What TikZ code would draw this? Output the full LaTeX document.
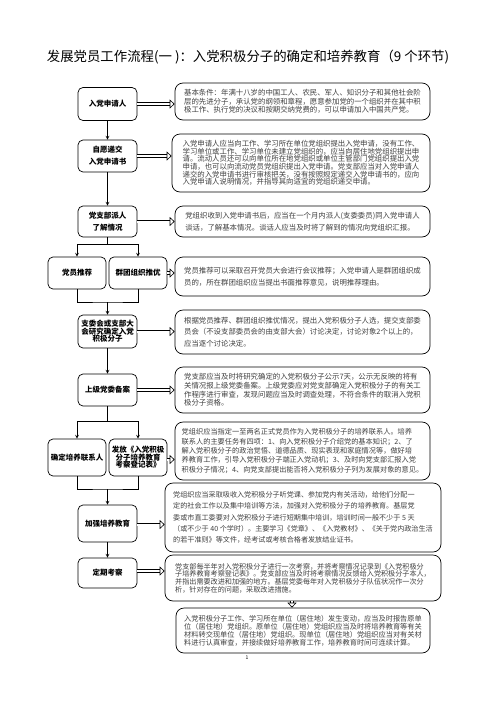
\documentclass[tikz,border=0pt]{standalone}
\usepackage{fontspec}
\setmainfont{Noto Sans CJK SC}
\usetikzlibrary{arrows.meta}

\begin{document}
\begin{tikzpicture}[x=1pt, y=-1pt, >=stealth,
  mainbox/.style={draw, rounded corners=5pt, line width=0.7pt, align=center, inner sep=0pt,
    minimum width=59pt, minimum height=32pt, font=\bfseries\fontsize{7.5}{12}\selectfont},
  notebox/.style={draw, rounded corners=8pt, line width=0.7pt, align=left, inner sep=0pt,
    text=black!75, minimum width=255pt, font=\fontsize{7.4}{8.3}\selectfont},
  hollow/.style={double, double distance=2pt, line width=0.6pt, -{Triangle[open, length=5pt, width=9pt]}},
  flow/.style={->, line width=0.7pt}]
  \useasboundingbox[fill=white] (0,0) rectangle (496,702);

  % title
  \node[font=\fontsize{13.4}{15}\selectfont] (title) at (248,57)
    {发展党员工作流程(一 )：入党积极分子的确定和培养教育（9 个环节)};

  % main column
  \node[mainbox, minimum height=33pt] (apply) at (107.5,104) {入党申请人};
  \node[mainbox] (submit) at (107.5,156) {自愿递交\\入党申请书};
  \node[mainbox, minimum height=31pt] (visit) at (107.5,221.5) {党支部派人\\了解情况};
  \node[mainbox, minimum width=58pt] (recm) at (77,273) {党员推荐};
  \node[mainbox, minimum width=58pt] (tuan) at (138,273) {群团组织推优};
  \node[mainbox, minimum height=33pt, font=\bfseries\fontsize{7.5}{7.6}\selectfont] (decide) at (107.5,331.5)
    {支委会或支部大\\会研究确定入党\\积极分子};
  \node[mainbox] (record) at (107.5,390) {上级党委备案};
  \node[mainbox, minimum width=58pt, minimum height=37pt] (contact) at (77,457.5) {确定培养联系人};
  \node[mainbox, minimum width=58pt, minimum height=37pt, font=\bfseries\fontsize{7.5}{7.6}\selectfont] (form) at (138,457.5)
    {发放《入党积极\\分子培养教育\\考察登记表》};
  \node[mainbox, minimum height=37pt] (educate) at (107.5,523.5) {加强培养教育};
  \node[mainbox, minimum height=30pt] (review) at (107.5,573) {定期考察};

  % notes
  \node[notebox, minimum height=37pt] (n1) at (302.5,101.5)
    {基本条件：年满十八岁的中国工人、农民、军人、知识分子和其他社会阶\\
     层的先进分子，承认党的纲领和章程，愿意参加党的一个组织并在其中积\\
     极工作、执行党的决议和按期交纳党费的，可以申请加入中国共产党。};
  \node[notebox, minimum width=258pt, minimum height=58pt, font=\fontsize{7.4}{7.6}\selectfont] (n2) at (301,163)
    {入党申请人应当向工作、学习所在单位党组织提出入党申请，没有工作、\\
     学习单位或工作、学习单位未建立党组织的，应当向居住地党组织提出申\\
     请。流动人员还可以向单位所在地党组织或单位主管部门党组织提出入党\\
     申请，也可以向流动党员党组织提出入党申请。党支部应当对入党申请人\\
     递交的入党申请书进行审核把关，没有按照规定递交入党申请书的，应向\\
     入党申请人说明情况，并指导其向适宜的党组织递交申请。};
  \node[notebox, minimum height=31pt, font=\fontsize{7.4}{11.7}\selectfont] (n3) at (302.5,221.5)
    {党组织收到入党申请书后，应当在一个月内派人(支委委员)同入党申请人\\
     谈话，了解基本情况。谈话人应当及时将了解到的情况向党组织汇报。};
  \node[notebox, minimum height=39pt, font=\fontsize{7.4}{12}\selectfont] (n4) at (302.5,276.5)
    {党员推荐可以采取召开党员大会进行会议推荐；入党申请人是群团组织成\\
     员的，所在群团组织应当提出书面推荐意见，说明推荐理由。};
  \node[notebox, minimum height=44pt, font=\fontsize{7.4}{11.7}\selectfont] (n5) at (302.5,332)
    {根据党员推荐、群团组织推优情况，提出入党积极分子人选，提交支部委\\
     员会（不设支部委员会的由支部大会）讨论决定，讨论对象2个以上的，\\
     应当逐个讨论决定。};
  \node[notebox, minimum height=46pt, font=\fontsize{7.4}{8.7}\selectfont] (n6) at (302.5,390)
    {党支部应当及时将研究确定的入党积极分子公示7天，公示无反映的将有\\
     关情况报上级党委备案。上级党委应对党支部确定入党积极分子的有关工\\
     作程序进行审查，发现问题应当及时调查处理，不符合条件的取消入党积\\
     极分子资格。};
  \node[notebox, minimum height=58pt, font=\fontsize{7.2}{9.3}\selectfont] (n7) at (302.5,451)
    {党组织应当指定一至两名正式党员作为入党积极分子的培养联系人。培养\\
     联系人的主要任务有四项：1、向入党积极分子介绍党的基本知识；2、了\\
     解入党积极分子的政治觉悟、道德品质、现实表现和家庭情况等，做好培\\
     养教育工作，引导入党积极分子端正入党动机；3、及时向党支部汇报入党\\
     积极分子情况；4、向党支部提出能否将入党积极分子列为发展对象的意见。};
  \node[notebox, minimum width=276pt, minimum height=69pt, font=\fontsize{7.1}{11.2}\selectfont] (n8) at (303,517.5)
    {党组织应当采取吸收入党积极分子听党课、参加党内有关活动，给他们分配一\\
     定的社会工作以及集中培训等方法，加强对入党积极分子的培养教育。基层党\\
     委或市直工委要对入党积极分子进行短期集中培训，培训时间一般不少于 5 天\\
     （或不少于 40 个学时）。主要学习《党章》、《入党教材》、《关于党内政治生活\\
     的若干准则》等文件，经考试或考核合格者发放结业证书。};
  \node[notebox, minimum width=276pt, minimum height=46pt, font=\fontsize{7.1}{7.6}\selectfont] (n9) at (303,578)
    {党支部每半年对入党积极分子进行一次考察，并将考察情况记录到《入党积极分\\
     子培养教育考察登记表》。党支部应当及时将考察情况反馈给入党积极分子本人，\\
     并指出需要改进和加强的地方。基层党委每年对入党积极分子队伍状况作一次分\\
     析，针对存在的问题，采取改进措施。};
  \node[notebox, minimum width=254pt, minimum height=45pt, font=\fontsize{7.2}{8}\selectfont] (n10) at (303,630.5)
    {入党积极分子工作、学习所在单位（居住地）发生变动，应当及时报告原单\\
     位（居住地）党组织。原单位（居住地）党组织应当及时将培养教育等有关\\
     材料转交现单位（居住地）党组织。现单位（居住地）党组织应当对有关材\\
     料进行认真审查，并接续做好培养教育工作，培养教育时间可连续计算。};
  \node[font=\fontsize{5}{6}\selectfont] (pageno) at (247,658) {1};

  % flow of the main column
  \coordinate (join1) at (107.5,302);
  \coordinate (join2) at (107.5,489);
  \draw[flow] (apply) -- (submit);
  \draw[flow] (submit) -- (visit);
  \draw[flow] (visit.south) -- ++(0,7) -| (recm.north);
  \draw[flow] (visit.south) -- ++(0,7) -| (tuan.north);
  \draw[line width=0.7pt] (recm.south) |- (join1) -| (tuan.south);
  \draw[flow] (join1) -- (decide.north);
  \draw[flow] (decide) -- (record);
  \draw[flow] (record.south) -- ++(0,15) -| (contact.north);
  \draw[flow] (record.south) -- ++(0,15) -| (form.north);
  \draw[line width=0.7pt] (contact.south) |- (join2) -| (form.south);
  \draw[flow] (join2) -- (educate.north);
  \draw[flow] (educate) -- (review);

  % links to the notes
  \draw[hollow] (apply.east) -- (apply.east -| n1.west);
  \draw[hollow] (submit.east) -- (submit.east -| n2.west);
  \draw[hollow] (visit.east) -- (visit.east -| n3.west);
  \draw[hollow] (tuan.east) -- (tuan.east -| n4.west);
  \draw[hollow] (decide.east) -- (decide.east -| n5.west);
  \draw[hollow] (record.east) -- (record.east -| n6.west);
  \draw[hollow] ([yshift=-2pt]form.east) -- ([yshift=-2pt]form.east -| n7.west);
  \draw[hollow] ([yshift=-1pt]educate.east) -- ([yshift=-1pt]educate.east -| n8.west);
  \draw[hollow] ([yshift=2pt]review.east) -- ([yshift=2pt]review.east -| n9.west);
  \draw[hollow] ([xshift=-11pt]n9.south) -- ([xshift=-11pt]n10.north);
\end{tikzpicture}
\end{document}
